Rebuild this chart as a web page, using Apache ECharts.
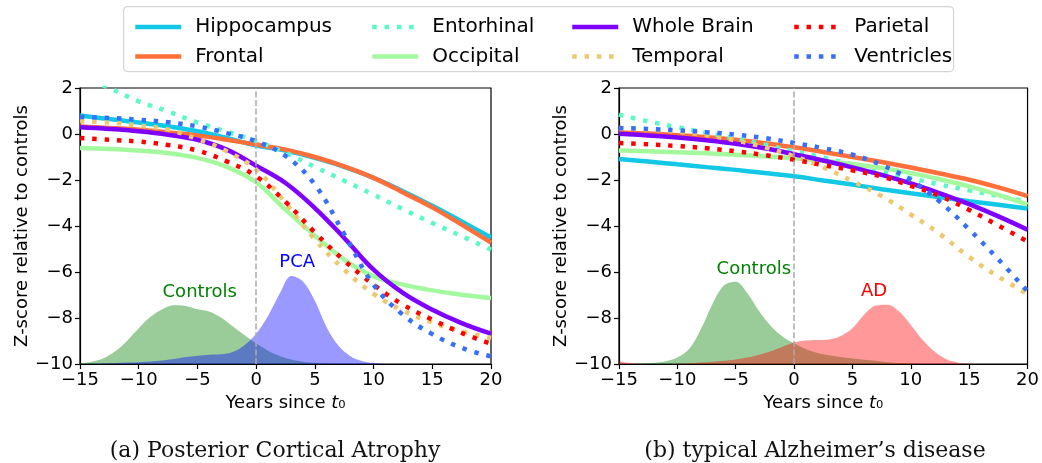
<!DOCTYPE html>
<html lang="en">
<head>
<meta charset="UTF-8">
<title>Z-score trajectories: PCA and typical AD</title>
<script src="https://cdn.jsdelivr.net/npm/echarts@6/dist/echarts.min.js"></script>
<style>
  html, body { margin: 0; padding: 0; background: #fff; }
  #chart { width: 1042px; height: 463px; }
</style>
</head>
<body>
<div id="chart"></div>
<script>
// years since t0 for the fitted trajectories
var years = [-15, -12.5, -10, -7.5, -5, -2.5, 0, 2.5, 5, 7.5, 10, 12.5, 15, 17.5, 20];

// (a) Posterior Cortical Atrophy
var pcaHippocampus = [0.8, 0.65, 0.5, 0.33, 0.12, -0.17, -0.5, -0.72, -1.04, -1.43, -1.91, -2.49, -3.12, -3.8, -4.5];
var pcaFrontal     = [0.33, 0.26, 0.19, 0.07, -0.06, -0.25, -0.46, -0.68, -1.0, -1.41, -1.91, -2.54, -3.19, -3.94, -4.72];
var pcaEntorhinal  = [2.55, 2.0, 1.42, 0.98, 0.5, 0.1, -0.3, -0.82, -1.43, -2.03, -2.64, -3.27, -3.87, -4.44, -5.03];
var pcaOccipital   = [-0.61, -0.65, -0.72, -0.83, -1.04, -1.43, -2.1, -3.29, -4.42, -5.46, -6.19, -6.55, -6.8, -6.99, -7.13];
var pcaWholeBrain  = [0.29, 0.22, 0.12, -0.03, -0.25, -0.68, -1.38, -2.13, -3.22, -4.52, -5.9, -6.91, -7.64, -8.22, -8.68];
var pcaTemporal    = [0.55, 0.5, 0.36, 0.19, -0.22, -0.75, -1.55, -3.0, -4.59, -5.9, -6.95, -7.68, -8.2, -8.58, -8.87];
var pcaParietal    = [-0.17, -0.25, -0.33, -0.48, -0.72, -1.19, -1.84, -2.95, -4.28, -5.5, -6.55, -7.42, -8.07, -8.65, -9.12];
var pcaVentricles  = [0.74, 0.7, 0.62, 0.51, 0.33, 0.04, -0.32, -0.95, -2.2, -4.35, -6.55, -7.86, -8.7, -9.3, -9.67];

// (b) typical Alzheimer's disease
var adHippocampus = [-1.09, -1.2, -1.32, -1.44, -1.56, -1.7, -1.84, -2.02, -2.2, -2.4, -2.58, -2.75, -2.92, -3.08, -3.24];
var adFrontal     = [0.07, 0.02, -0.05, -0.14, -0.25, -0.4, -0.58, -0.78, -1.0, -1.22, -1.46, -1.72, -1.99, -2.32, -2.7];
var adEntorhinal  = [0.84, 0.55, 0.3, 0.05, -0.2, -0.47, -0.75, -1.02, -1.32, -1.62, -1.92, -2.2, -2.45, -2.7, -2.93];
var adOccipital   = [-0.72, -0.75, -0.79, -0.84, -0.9, -0.97, -1.05, -1.16, -1.3, -1.48, -1.7, -1.97, -2.28, -2.65, -3.07];
var adWholeBrain  = [0.01, -0.06, -0.15, -0.27, -0.42, -0.62, -0.88, -1.15, -1.45, -1.78, -2.15, -2.58, -3.05, -3.58, -4.16];
var adTemporal    = [0.26, 0.2, 0.1, -0.05, -0.28, -0.58, -0.97, -1.45, -2.05, -2.7, -3.5, -4.35, -5.35, -6.2, -6.95];
var adParietal    = [-0.39, -0.45, -0.52, -0.62, -0.75, -0.92, -1.12, -1.35, -1.58, -1.85, -2.25, -2.7, -3.3, -3.98, -4.67];
var adVentricles  = [0.26, 0.22, 0.16, 0.08, -0.03, -0.18, -0.39, -0.62, -0.9, -1.35, -2.0, -2.95, -4.15, -5.45, -6.84];

// subject density curves (drawn from the -10 baseline)
var densityYears = [-15, -14, -13, -12, -11, -10, -9, -8, -7, -6, -5, -4, -3, -2, -1, 0, 1, 2,
                    3, 4, 5, 6, 7, 8, 9, 10, 11, 12, 13, 14, 15, 16, 17, 18, 19, 20];
var pcaControlsDensity = [-9.97, -9.9, -9.75, -9.45, -9.0, -8.45, -7.95, -7.62, -7.45, -7.48, -7.62, -7.72, -7.98, -8.36, -8.74, -9.1, -9.42, -9.65,
                          -9.8, -9.9, -9.95, -9.98, -10, -10, -10, -10, -10, -10, -10, -10, -10, -10, -10, -10, -10, -10];
var pcaPatientDensity  = [-10, -9.99, -9.98, -9.96, -9.94, -9.92, -9.89, -9.85, -9.78, -9.7, -9.64, -9.6, -9.58, -9.48, -9.18, -8.68, -7.92, -6.95,
                          -6.17, -6.42, -7.25, -8.4, -9.2, -9.65, -9.87, -9.96, -10, -10, -10, -10, -10, -10, -10, -10, -10, -10];
var adControlsDensity  = [-10, -10, -9.98, -9.95, -9.88, -9.72, -9.35, -8.5, -7.4, -6.58, -6.42, -6.92, -7.7, -8.35, -8.8, -9.1, -9.35, -9.52,
                          -9.62, -9.7, -9.76, -9.81, -9.86, -9.92, -9.96, -9.98, -10, -10, -10, -10, -10, -10, -10, -10, -10, -10];
var adPatientDensity   = [-9.88, -9.97, -10, -10, -10, -9.99, -9.97, -9.94, -9.9, -9.86, -9.8, -9.72, -9.6, -9.45, -9.25, -9.07, -8.98, -8.96,
                          -8.93, -8.78, -8.45, -7.86, -7.46, -7.42, -7.72, -8.3, -8.95, -9.45, -9.78, -9.93, -9.99, -10, -10, -10, -10, -10];

var regionNames = ['Hippocampus', 'Frontal', 'Entorhinal', 'Occipital', 'Whole Brain', 'Temporal', 'Parietal', 'Ventricles'];
var regionColors = ['rgb(18,200,230)', 'rgb(255,111,57)', 'rgb(91,249,200)', 'rgb(164,249,159)',
                    'rgb(128,0,255)', 'rgb(237,200,111)', 'rgb(255,0,0)', 'rgb(55,111,249)'];
var regionDotted = [false, false, true, false, false, true, true, true];

var panels = [
  { curves: [pcaHippocampus, pcaFrontal, pcaEntorhinal, pcaOccipital, pcaWholeBrain, pcaTemporal, pcaParietal, pcaVentricles],
    controls: pcaControlsDensity, patients: pcaPatientDensity,
    patientName: 'PCA', patientColor: '#0000ff', patientFill: 'rgba(0,0,255,0.4)',
    controlsLabelAt: [-4.8, -6.9], patientLabelAt: [3.5, -5.6] },
  { curves: [adHippocampus, adFrontal, adEntorhinal, adOccipital, adWholeBrain, adTemporal, adParietal, adVentricles],
    controls: adControlsDensity, patients: adPatientDensity,
    patientName: 'AD', patientColor: '#ff0000', patientFill: 'rgba(255,0,0,0.4)',
    controlsLabelAt: [-3.45, -5.9], patientLabelAt: [6.85, -6.85] }
];

var captions = ['(a) Posterior Cortical Atrophy', '(b) typical Alzheimer\u2019s disease'];
var legendColumns = [['Hippocampus', 'Frontal'], ['Entorhinal', 'Occipital'], ['Whole Brain', 'Temporal'], ['Parietal', 'Ventricles']];
var legendLefts = [128, 365, 565, 787];
var gridLefts = [80, 619];

function pairs(xs, ys) {
  return xs.map(function (x, i) { return [x, ys[i]]; });
}

function minusSign(v) {
  return v < 0 ? '\u2212' + (-v) : String(v);
}

var series = [];
panels.forEach(function (p, gi) {
  series.push({
    type: 'line', name: 'Controls density ' + gi, xAxisIndex: gi, yAxisIndex: gi,
    data: pairs(densityYears, p.controls), smooth: 0.35, symbol: 'none', z: 1,
    lineStyle: { width: 0 }, areaStyle: { color: 'rgba(0,128,0,0.4)', origin: 'start', opacity: 1 },
    markPoint: {
      symbol: 'circle', symbolSize: 0, silent: true,
      label: { show: true, position: 'inside', color: '#008000', fontSize: 18, fontFamily: 'DejaVu Sans', formatter: 'Controls' },
      data: [{ coord: p.controlsLabelAt }]
    }
  });
  series.push({
    type: 'line', name: p.patientName + ' density', xAxisIndex: gi, yAxisIndex: gi,
    data: pairs(densityYears, p.patients), smooth: 0.35, symbol: 'none', z: 1,
    lineStyle: { width: 0 }, areaStyle: { color: p.patientFill, origin: 'start', opacity: 1 },
    markPoint: {
      symbol: 'circle', symbolSize: 0, silent: true,
      label: { show: true, position: 'inside', color: p.patientColor, fontSize: 18, fontFamily: 'DejaVu Sans', formatter: p.patientName },
      data: [{ coord: p.patientLabelAt }]
    },
    markLine: {
      silent: true, symbol: ['none', 'none'], label: { show: false },
      lineStyle: { color: '#aaaaaa', width: 1.5, type: [6, 2.6] },
      data: [{ xAxis: 0 }]
    }
  });
  p.curves.forEach(function (vals, k) {
    series.push({
      type: 'line', name: regionNames[k], xAxisIndex: gi, yAxisIndex: gi,
      data: pairs(years, vals), smooth: 0.4, symbol: 'none', showSymbol: false, z: 2,
      color: regionColors[k],
      lineStyle: { color: regionColors[k], width: 4.5, type: regionDotted[k] ? [4.5, 7.8] : 'solid', cap: 'butt' }
    });
  });
});

var chart = echarts.init(document.getElementById('chart'), null, { renderer: 'canvas' });
chart.setOption({
  animation: false,
  backgroundColor: '#ffffff',
  textStyle: { fontFamily: 'DejaVu Sans' },
  title: captions.map(function (c, i) {
    return {
      text: c, left: [270, 810][i], top: 435, textAlign: 'center',
      textStyle: { fontFamily: 'DejaVu Serif', fontSize: 22, fontWeight: 'normal', color: '#111' }
    };
  }),
  graphic: [{
    type: 'rect', left: 123, top: 6, z: 0,
    shape: { width: 830, height: 65, r: 4 },
    style: { fill: '#ffffff', stroke: '#d4d4d4', lineWidth: 1.2 }
  }],
  legend: legendColumns.map(function (names, i) {
    return {
      data: names, orient: 'vertical', left: legendLefts[i], top: 12,
      itemWidth: 46, itemHeight: 20, itemGap: 9.5, selectedMode: false,
      itemStyle: { opacity: 0, borderWidth: 0 },
      lineStyle: { width: 4.5 },
      textStyle: { fontSize: 20, fontFamily: 'DejaVu Sans', color: '#000', padding: [0, 0, 0, 9] }
    };
  }),
  grid: gridLefts.map(function (l) {
    return { left: l, top: 88, width: 411, height: 276, show: true, borderColor: '#000', borderWidth: 1.2 };
  }),
  xAxis: gridLefts.map(function (l, i) {
    return {
      type: 'value', gridIndex: i, min: -15, max: 20, interval: 5, position: 'bottom',
      name: 'Years since {i|t}\u2080', nameLocation: 'middle', nameGap: 28,
      nameTextStyle: { fontSize: 18, color: '#000', fontFamily: 'DejaVu Sans',
        rich: { i: { fontStyle: 'italic', fontSize: 18, color: '#000', fontFamily: 'DejaVu Sans' } } },
      axisLine: { show: true, onZero: false, lineStyle: { color: '#000', width: 1.2 } },
      axisTick: { show: true, inside: false, length: 5, lineStyle: { color: '#000', width: 1.2 } },
      axisLabel: { fontSize: 18, color: '#000', fontFamily: 'DejaVu Sans', margin: 7, formatter: minusSign },
      splitLine: { show: false }
    };
  }),
  yAxis: gridLefts.map(function (l, i) {
    return {
      type: 'value', gridIndex: i, min: -10, max: 2, interval: 2, position: 'left',
      name: 'Z-score relative to controls', nameLocation: 'middle', nameGap: 48,
      nameTextStyle: { fontSize: 18, color: '#000', fontFamily: 'DejaVu Sans' },
      axisLine: { show: true, onZero: false, lineStyle: { color: '#000', width: 1.2 } },
      axisTick: { show: true, inside: false, length: 5, lineStyle: { color: '#000', width: 1.2 } },
      axisLabel: { fontSize: 18, color: '#000', fontFamily: 'DejaVu Sans', margin: 7, formatter: minusSign },
      splitLine: { show: false }
    };
  }),
  series: series
});
</script>
</body>
</html>
